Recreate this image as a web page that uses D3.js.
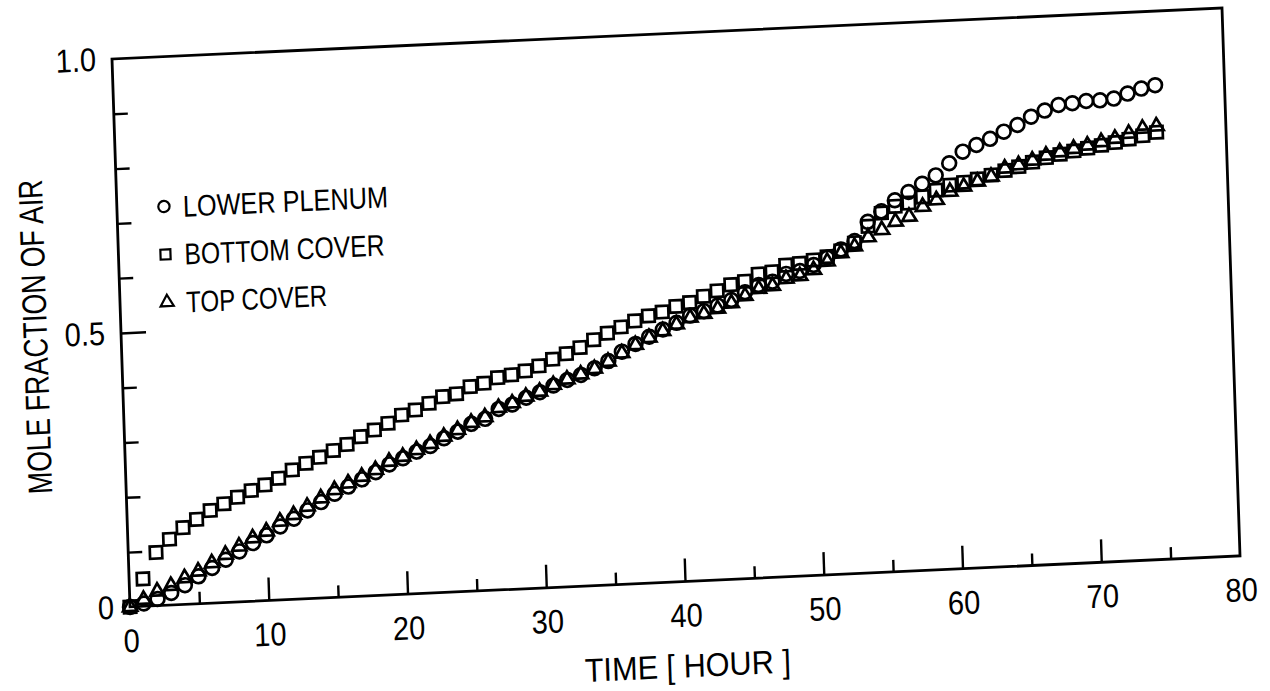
<!DOCTYPE html>
<html>
<head>
<meta charset="utf-8">
<script src="https://cdn.jsdelivr.net/npm/d3@7"></script>
<style>
  html, body { margin: 0; padding: 0; background: #fff; }
  svg { display: block; }
  text { font-family: "Liberation Sans", Arial, sans-serif; fill: #000; }
</style>
</head>
<body>
<svg id="chart" width="1270" height="691"></svg>
<script>
// ---------------- data ----------------
const hours = [0,1,2,3,4,5,6,7,8,9,10,11,12,13,14,15,16,17,18,19,20,21,22,23,24,25,26,27,28,29,30,31,32,33,34,35,36,37,38,39,40,41,42,43,44,45,46,47,48,49,50,51,52,53,54,55,56,57,58,59,60,61,62,63,64,65,66,67,68,69,70,71,72,73,74,75];

const lowerPlenum = [0.000,0.005,0.012,0.022,0.035,0.050,0.064,0.078,0.092,0.106,0.119,0.134,0.147,0.161,0.175,0.189,0.201,0.213,0.225,0.238,0.248,0.259,0.268,0.281,0.292,0.305,0.313,0.330,0.337,0.348,0.357,0.368,0.377,0.385,0.396,0.408,0.424,0.437,0.449,0.461,0.472,0.484,0.491,0.500,0.509,0.522,0.534,0.539,0.552,0.556,0.566,0.578,0.592,0.606,0.640,0.658,0.677,0.691,0.705,0.719,0.740,0.760,0.771,0.781,0.793,0.804,0.818,0.828,0.837,0.839,0.842,0.842,0.844,0.852,0.860,0.865];

const bottomCover = [0.000,0.050,0.097,0.120,0.140,0.154,0.169,0.180,0.191,0.202,0.211,0.222,0.236,0.247,0.257,0.268,0.278,0.291,0.302,0.313,0.327,0.335,0.346,0.357,0.361,0.373,0.378,0.387,0.391,0.397,0.405,0.416,0.425,0.435,0.448,0.459,0.469,0.479,0.487,0.493,0.502,0.508,0.518,0.527,0.537,0.542,0.554,0.557,0.568,0.570,0.575,0.580,0.590,0.603,0.632,0.655,0.666,0.671,0.681,0.692,0.700,0.704,0.709,0.715,0.722,0.728,0.735,0.742,0.747,0.752,0.756,0.760,0.764,0.769,0.774,0.779];

const topCover = [0.000,0.012,0.026,0.035,0.048,0.059,0.073,0.087,0.101,0.115,0.126,0.143,0.154,0.168,0.182,0.196,0.207,0.218,0.229,0.243,0.251,0.262,0.272,0.284,0.295,0.307,0.316,0.332,0.339,0.350,0.358,0.369,0.378,0.386,0.395,0.407,0.421,0.435,0.447,0.458,0.469,0.480,0.486,0.494,0.503,0.515,0.527,0.531,0.543,0.547,0.557,0.571,0.585,0.596,0.612,0.624,0.638,0.646,0.663,0.674,0.688,0.696,0.704,0.712,0.726,0.731,0.738,0.746,0.751,0.756,0.761,0.766,0.771,0.779,0.787,0.790];

const seriesNames = ["LOWER PLENUM", "BOTTOM COVER", "TOP COVER"];
const xMajorTicks = [0,10,20,30,40,50,60,70,80];
const xMinorTicks = [5,15,25,35,45,55,65,75];
const yLabelTicks = [0, 0.5, 1.0];
const yMinorTicks = [0.1,0.2,0.3,0.4,0.6,0.7,0.8,0.9];
const xTitle = "TIME [ HOUR ]";
const yTitle = "MOLE FRACTION OF AIR";

// ---------------- layout ----------------
const W = 1110, H = 549;
const svg = d3.select("#chart");
svg.append("rect").attr("width", 1270).attr("height", 691).attr("fill", "#fff");

// the scanned page is slightly skewed: draw the plot in a skewed frame
const g = svg.append("g")
  .attr("transform", "matrix(1,-0.0459,0.0328,0.998,112,59)");

const x = d3.scaleLinear().domain([0, 80]).range([0, W]);
const y = d3.scaleLinear().domain([0, 1]).range([H, 0]);

// frame
g.append("rect").attr("x", 0).attr("y", 0).attr("width", W).attr("height", H)
  .attr("fill", "none").attr("stroke", "#000").attr("stroke-width", 2.8);

// x axis: major ticks with labels (pointing inward)
const xAxisMajor = d3.axisBottom(x).tickValues(xMajorTicks).tickSizeInner(-23).tickSizeOuter(0)
  .tickPadding(22).tickFormat(d3.format("d"));
const gx = g.append("g").attr("transform", `translate(0,${H})`).call(xAxisMajor);
const xAxisMinor = d3.axisBottom(x).tickValues(xMinorTicks).tickSizeInner(-12).tickSizeOuter(0)
  .tickFormat("");
const gx2 = g.append("g").attr("transform", `translate(0,${H})`).call(xAxisMinor);

// y axis
const yAxisMajor = d3.axisLeft(y).tickValues(yLabelTicks).tickSizeInner(-25).tickSizeOuter(0)
  .tickPadding(16).tickFormat(d => d === 0 ? "0" : d3.format(".1f")(d));
const gy = g.append("g").call(yAxisMajor);
const yAxisMinor = d3.axisLeft(y).tickValues(yMinorTicks).tickSizeInner(-14).tickSizeOuter(0)
  .tickFormat("");
const gy2 = g.append("g").call(yAxisMinor);

[gx, gx2, gy, gy2].forEach(a => {
  a.select(".domain").remove();
  a.selectAll(".tick line").attr("stroke", "#000").attr("stroke-width", 2.4);
  a.selectAll(".tick text").attr("font-size", 33).attr("fill", "#000")
    .attr("font-family", "'Liberation Sans',Arial,sans-serif");
});
// condense tick labels a little, like the narrow typeface of the original
[gx, gy].forEach(a => {
  a.selectAll(".tick text").each(function () {
    const t = d3.select(this);
    const len = this.getComputedTextLength();
    t.attr("textLength", len * 0.88).attr("lengthAdjust", "spacingAndGlyphs");
  });
});
// remove tick lines at frame corners (frame draws them)
gx.selectAll(".tick line").filter(d => d === 0 || d === 80).remove();
gy.selectAll(".tick line").filter(d => d === 0 || d === 1).remove();

// axis titles
g.append("text")
  .attr("x", x(40)).attr("y", H + 96)
  .attr("text-anchor", "middle").attr("font-size", 33)
  .attr("textLength", 206).attr("lengthAdjust", "spacingAndGlyphs")
  .text(xTitle);

g.append("text")
  .attr("transform", `translate(-74,${y(0.5)}) rotate(-90)`)
  .attr("text-anchor", "middle").attr("font-size", 34)
  .attr("textLength", 315).attr("lengthAdjust", "spacingAndGlyphs")
  .text(yTitle);

// ---------------- markers ----------------
const symCircle = d3.symbol().type(d3.symbolCircle).size(150);
const symSquare = d3.symbol().type(d3.symbolSquare).size(150);
const symTriangle = d3.symbol().type(d3.symbolTriangle).size(88);

const series = [
  { name: seriesNames[0], values: lowerPlenum, sym: symCircle },
  { name: seriesNames[1], values: bottomCover, sym: symSquare },
  { name: seriesNames[2], values: topCover, sym: symTriangle }
];

series.forEach(s => {
  g.append("g").selectAll("path")
    .data(hours.map((h, i) => ({ h, v: s.values[i] })))
    .join("path")
    .attr("d", s.sym())
    .attr("transform", d => `translate(${x(d.h)},${y(d.v)})`)
    .attr("fill", "none").attr("stroke", "#000").attr("stroke-width", 2.7);
});

// ---------------- legend ----------------
const legendWidths = [205, 200, 141];
const legend = g.append("g").attr("transform", "translate(47,150)");
series.forEach((s, i) => {
  const row = legend.append("g").attr("transform", `translate(0,${i * 48})`);
  const small = [d3.symbol().type(d3.symbolCircle).size(100),
                 d3.symbol().type(d3.symbolSquare).size(100),
                 d3.symbol().type(d3.symbolTriangle).size(75)][i];
  row.append("path").attr("d", small()).attr("fill", "none")
    .attr("stroke", "#000").attr("stroke-width", 2.2);
  row.append("text").attr("x", 19).attr("y", 11)
    .attr("font-size", 30)
    .attr("textLength", legendWidths[i]).attr("lengthAdjust", "spacingAndGlyphs")
    .text(s.name);
});
</script>
</body>
</html>
